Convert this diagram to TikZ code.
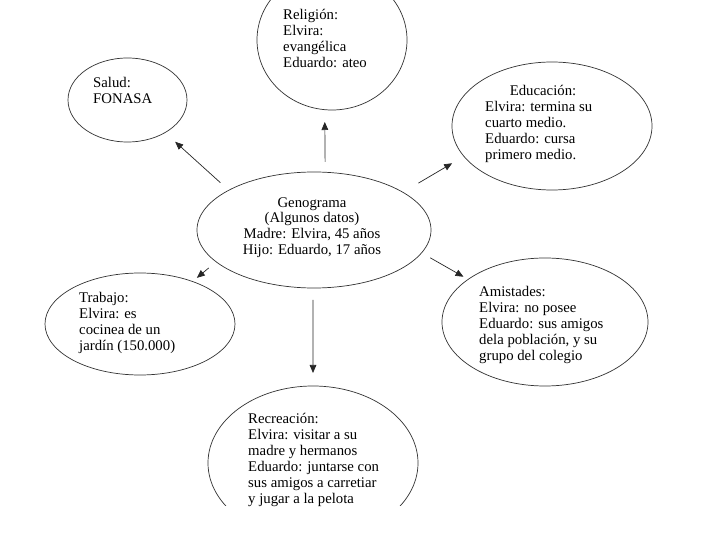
\documentclass[tikz,border=0pt]{standalone}
\usepackage{fontspec}
\setmainfont{Liberation Serif}
\usetikzlibrary{arrows.meta, shapes.geometric}

\begin{document}
\begin{tikzpicture}[x=0.03cm, y=-0.03cm, >={Triangle[length=2.4mm, width=2mm]},
    burbuja/.style 2 args={ellipse, draw=black!80, line width=0.6pt, outer sep=0pt,
        minimum width=#1, minimum height=#2},
    texto/.style={inner sep=0pt, align=left, anchor=north west,
        font=\fontsize{12.6}{13.6}\selectfont},
    flecha/.style={->, line width=0.6pt, black!85}]

\clip (0,0) rectangle (720,540);
\fill[white] (0,0) rectangle (720,540);

% ── Centro ───────────────────────────────────────────────────────
\node[burbuja={7.02cm}{3.48cm}] (geno) at (314,230) {};
\node[texto, anchor=north, align=center] (tGeno) at (312,197)
    {Genograma\\(Algunos datos)\\Madre: Elvira, 45 años\\Hijo: Eduardo, 17 años};

% ── Arriba ───────────────────────────────────────────────────────
\node[burbuja={4.5cm}{4.2cm}] (rel) at (332,40) {};
\node[texto] (tRel) at (283,9)
    {Religión:\\Elvira:\\evangélica\\Eduardo: ateo};

\node[burbuja={3.57cm}{2.52cm}] (salud) at (127.5,100) {};
\node[texto] (tSalud) at (93,77) {Salud:\\FONASA};

\node[burbuja={6cm}{3.84cm}] (edu) at (552,126) {};
\node[texto] (tEdu) at (485,85)
    {\hspace*{21pt}Educación:\\Elvira: termina su\\cuarto medio.\\Eduardo: cursa\\primero medio.};

% ── Abajo ────────────────────────────────────────────────────────
\node[burbuja={5.7cm}{3.06cm}] (trab) at (140,324) {};
\node[texto] (tTrab) at (79,292)
    {Trabajo:\\Elvira: es\\cocinea de un\\jardín (150.000)};

\node[burbuja={6.18cm}{3.84cm}] (amis) at (545,322) {};
\node[texto] (tAmis) at (479,286)
    {Amistades:\\Elvira: no posee\\Eduardo: sus amigos\\dela población, y su\\grupo del colegio};

\begin{scope}
    \clip (0,0) rectangle (720,505);
    \node[burbuja={6.3cm}{4.62cm}] (recr) at (313,463) {};
\end{scope}
\node[texto] (tRecr) at (248,413)
    {Recreación:\\Elvira: visitar a su\\madre y hermanos\\Eduardo: juntarse con\\sus amigos a carretiar\\y jugar a la pelota};

% ── Flechas ──────────────────────────────────────────────────────
\draw[flecha, shorten <=0.31cm, shorten >=0.37cm] (geno.79) -- (rel.264);
\draw[flecha, shorten <=0.34cm, shorten >=0.41cm] (geno.155) -- (salud.319);
\draw[flecha, shorten <=0.54cm, shorten >=0.41cm] (geno.23) -- (edu.199);
\draw[flecha, shorten <=0.29cm, shorten >=0.17cm] (geno.198) -- (trab.39);
\draw[flecha, shorten <=0.30cm, shorten >=0.16cm] (geno.348) -- (amis.151);
\draw[flecha, shorten <=0.36cm, shorten >=0.39cm] (geno.269) -- (recr.90);

\end{tikzpicture}
\end{document}
